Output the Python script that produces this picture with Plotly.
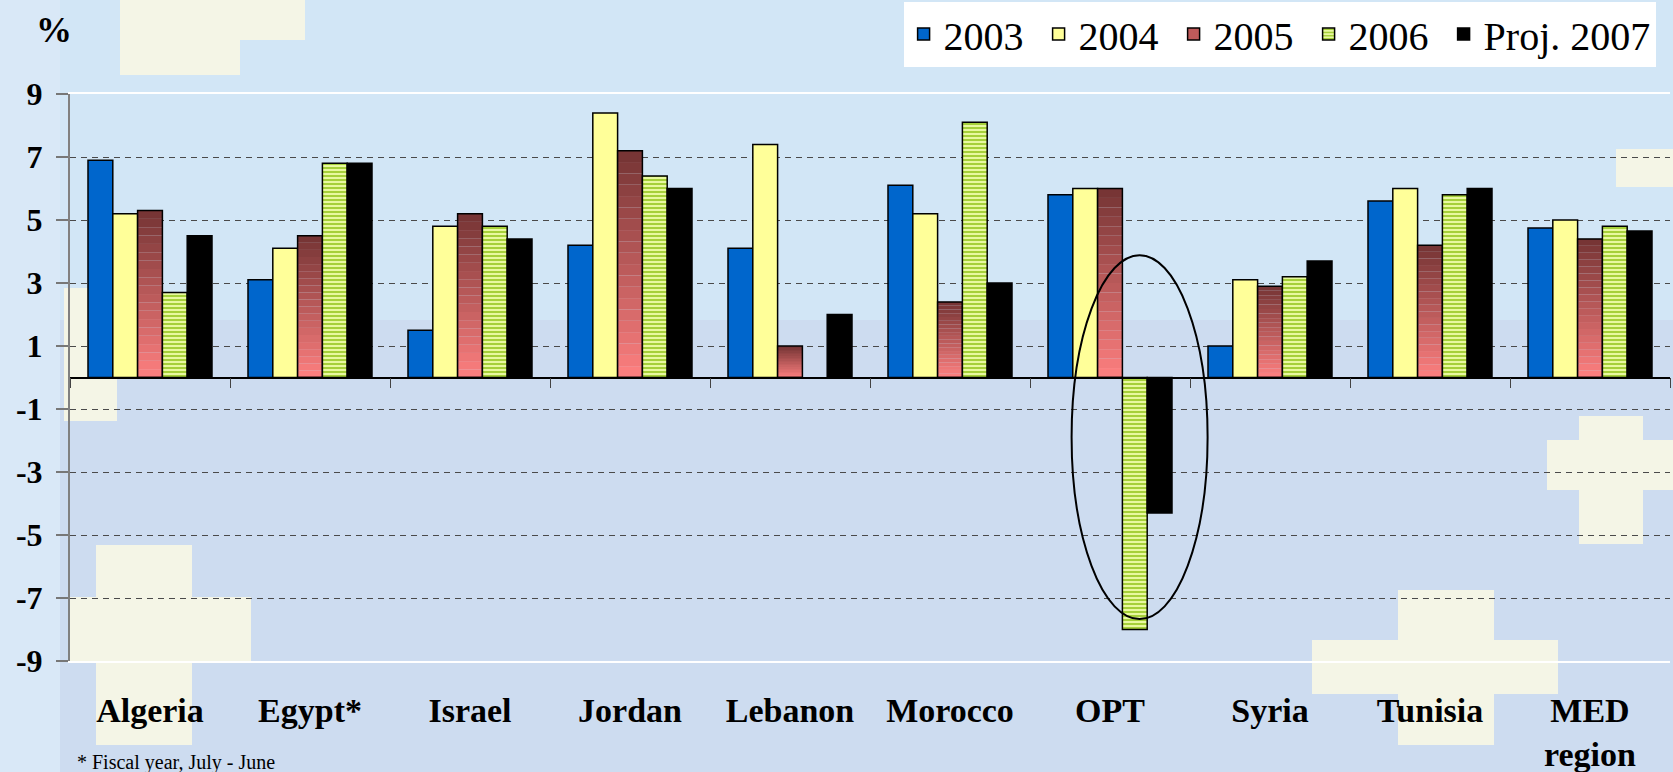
import plotly.graph_objects as go

# --- datos ---
paises = ['Algeria', 'Egypt*', 'Israel', 'Jordan', 'Lebanon', 'Morocco', 'OPT', 'Syria', 'Tunisia', 'MED<br>region']
v2003 = [6.9, 3.1, 1.5, 4.2, 4.1, 6.1, 5.8, 1.0, 5.6, 4.75]
v2004 = [5.2, 4.1, 4.8, 8.4, 7.4, 5.2, 6.0, 3.1, 6.0, 5.0]
v2005 = [5.3, 4.5, 5.2, 7.2, 1.0, 2.4, 6.0, 2.9, 4.2, 4.4]
v2006 = [2.7, 6.8, 4.8, 6.4, None, 8.1, -8.0, 3.2, 5.8, 4.8]
v2007 = [4.5, 6.8, 4.4, 6.0, 2.0, 3.0, -4.3, 3.7, 6.0, 4.65]
y_ticks = [9, 7, 5, 3, 1, -1, -3, -5, -7, -9]

FUENTE = 'Liberation Serif, Times New Roman, serif'
BORDE = dict(color='black', width=1.5)
NB = '\u00a0'

# margenes del area de trazado (px)
L, R, T, B = 70, 3, 94, 111
W, H = 1673, 772
PW, PH = W - L - R, H - T - B


def px2paper(x, y):
    return (x - L) / PW, (H - B - y) / PH


def mezclar(c1, c2, t):
    a = [int(c1[i:i + 2], 16) for i in (1, 3, 5)]
    b = [int(c2[i:i + 2], 16) for i in (1, 3, 5)]
    return '#%02x%02x%02x' % tuple(int(a[k] + (b[k] - a[k]) * t) for k in range(3))


fig = go.Figure()

fig.add_trace(go.Bar(x=paises, y=v2003, name='2003' + NB, offsetgroup='a',
                     marker=dict(color='#0066cc', line=BORDE)))
fig.add_trace(go.Bar(x=paises, y=v2004, name='2004' + NB, offsetgroup='b',
                     marker=dict(color='#ffff99', line=BORDE)))

# 2005 con degradado vertical (segmentos superpuestos en el mismo grupo)
N = 20
for k in range(N):
    col = mezclar('#ff8080', '#743434', (k + 0.5) / N)
    fig.add_trace(go.Bar(x=paises, y=[v / N for v in v2005], base=[v * k / N for v in v2005],
                         offsetgroup='c', marker=dict(color=col, line=dict(width=0)),
                         showlegend=False, hoverinfo='skip'))
fig.add_trace(go.Bar(x=paises, y=v2005, offsetgroup='c', showlegend=False,
                     marker=dict(color='rgba(0,0,0,0)', line=BORDE)))
fig.add_trace(go.Bar(x=paises, y=[0] * len(paises), name='2005' + NB, offsetgroup='c',
                     marker=dict(color='#c05a5a', line=BORDE), hoverinfo='skip'))

fig.add_trace(go.Bar(x=paises, y=v2006, name='2006' + NB, offsetgroup='d',
                     marker=dict(color='#e6f79a', line=BORDE,
                                 pattern=dict(shape='-', fgcolor='#9fcc2e', bgcolor='#e8f8a0',
                                              size=4, solidity=0.45, fillmode='replace'))))
fig.add_trace(go.Bar(x=paises, y=v2007, name='Proj. 2007', offsetgroup='e',
                     marker=dict(color='#000000', line=BORDE)))

# eje auxiliar para la linea del cero con sus marcas
fig.add_trace(go.Scatter(x=[None], y=[None], xaxis='x2', showlegend=False, hoverinfo='skip'))

# --- fondo tipo diapositiva ---
formas = []
def rect(x0, y0, x1, y1, color):
    a0, b0 = px2paper(x0, y1)
    a1, b1 = px2paper(x1, y0)
    formas.append(dict(type='rect', xref='paper', yref='paper', x0=a0, y0=b0, x1=a1, y1=b1,
                       fillcolor=color, line=dict(width=0), layer='below'))

CLARO = '#f4f5e6'
rect(0, 0, 1673, 320, '#d2e6f6')
rect(0, 0, 60, 772, '#d9e8f7')
rect(120, 0, 240, 75, CLARO)
rect(170, 0, 305, 40, CLARO)
rect(64, 288, 117, 421, CLARO)
rect(96, 545, 192, 745, CLARO)
rect(69, 597, 251, 662, CLARO)
rect(1398, 590, 1494, 745, CLARO)
rect(1312, 640, 1558, 694, CLARO)
rect(1579, 416, 1643, 544, CLARO)
rect(1547, 440, 1673, 490, CLARO)
rect(1616, 149, 1673, 187, CLARO)

# elipse sobre OPT
formas.append(dict(type='circle', xref='x', yref='y', x0=5.76, x1=6.61, y0=-7.67, y1=3.88,
                   line=dict(color='black', width=2), layer='above'))

fig.update_layout(
    width=W, height=H,
    margin=dict(l=L, r=R, t=T, b=B, autoexpand=False),
    paper_bgcolor='#cddcf0',
    plot_bgcolor='rgba(0,0,0,0)',
    barmode='group', bargap=0.225, bargroupgap=0,
    font=dict(family=FUENTE, color='black'),
    shapes=formas,
    xaxis=dict(type='category', showline=True, linecolor='white', linewidth=2, mirror=True,
               ticks='', showgrid=False, ticklabelstandoff=18, automargin=False,
               tickfont=dict(size=34, weight='bold')),
    xaxis2=dict(overlaying='x', anchor='free', position=0.5, range=[-0.5, 9.5],
                tickvals=[i + 0.5 for i in range(-1, 10)], ticks='outside', ticklen=10,
                tickcolor='#444', showticklabels=False, showline=True, linecolor='black',
                linewidth=1.5, showgrid=False, zeroline=False),
    yaxis=dict(range=[-9, 9], tickvals=y_ticks, ticktext=[str(v) for v in y_ticks],
               ticks='outside', ticklen=12, tickcolor='#777',
               tickwidth=2, showline=True, linecolor='#808080', linewidth=2,
               showgrid=True, gridcolor='#4a4a4a', gridwidth=1, griddash='6px,5px',
               zeroline=False, ticklabelstandoff=7, automargin=False,
               tickfont=dict(size=32, weight='bold')),
    legend=dict(orientation='h', x=0.991, xanchor='right', y=1.163, yanchor='top',
                bgcolor='white', font=dict(size=40, family=FUENTE), itemwidth=30,
                traceorder='normal'),
    showlegend=True,
)

fig.add_annotation(text='<b>%</b>', xref='paper', yref='paper', showarrow=False,
                   x=px2paper(54, 30)[0], y=px2paper(54, 30)[1],
                   xanchor='center', yanchor='middle',
                   font=dict(size=36, family=FUENTE))
fig.add_annotation(text='* Fiscal year, July - June', xref='paper', yref='paper', showarrow=False,
                   x=px2paper(75, 749)[0], y=px2paper(75, 749)[1], xanchor='left', yanchor='top',
                   font=dict(size=20, family=FUENTE))

# sin margen del body para que la figura ocupe la ventana entera
fig.write_html('out.html', config={'displayModeBar': False},
               post_script="document.body.style.margin='0';")
